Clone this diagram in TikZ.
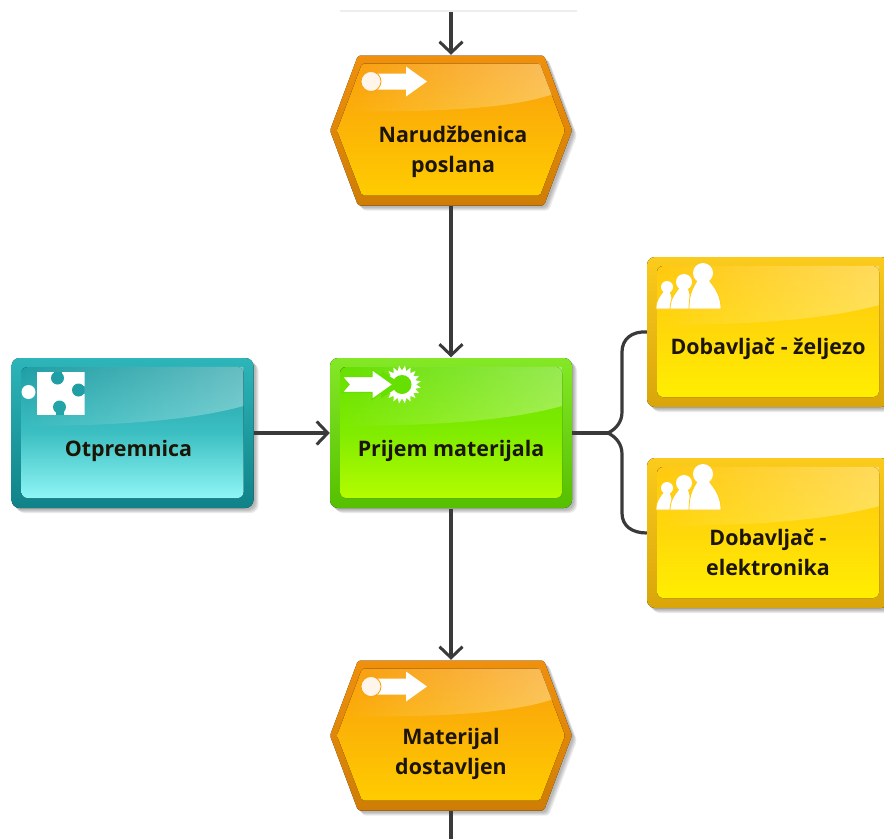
\documentclass[tikz,border=0pt]{standalone}
\usepackage{fontspec}
\setmainfont{Open Sans}
\usepackage{tikz}
\usetikzlibrary{arrows.meta}
\usetikzlibrary{fadings}

\definecolor{linegray}{HTML}{3A3A3A}
\definecolor{inkdark}{HTML}{1C1405}
\definecolor{evedge}{HTML}{CF7D06}
\definecolor{evrim}{HTML}{F0900C}
\definecolor{evtop}{HTML}{F99E0C}
\definecolor{evface}{HTML}{FFCC00}
\definecolor{docedge}{HTML}{0F8288}
\definecolor{docrim}{HTML}{2DB5B9}
\definecolor{doctop}{HTML}{1F9FA5}
\definecolor{docmid}{HTML}{3CBFC2}
\definecolor{docface}{HTML}{8FF5F5}
\definecolor{fnedge}{HTML}{55C000}
\definecolor{fnrim}{HTML}{84E826}
\definecolor{fntop}{HTML}{66E000}
\definecolor{fnmid}{HTML}{80EC00}
\definecolor{fnface}{HTML}{B4FC00}
\definecolor{roleedge}{HTML}{D9A50A}
\definecolor{rolerim}{HTML}{FBCB1C}
\definecolor{roletop}{HTML}{FFC90F}
\definecolor{rolemid}{HTML}{FFD80A}
\definecolor{roleface}{HTML}{FFEE00}

\tikzset{
	flow/.style={draw=linegray, line width=3.2pt},
	flow arrow/.style={flow, -{Straight Barb[length=11pt,width=23pt,line width=3pt]}},
	anchor box/.style={rectangle, minimum width=242pt, minimum height=151pt, inner sep=0pt},
	label text/.style={font=\fontsize{21.4}{30}\selectfont\bfseries, text=inkdark, align=center, inner sep=0pt},
	soft shadow/.style={fill=black, opacity=0.08},
}

% #1 name, #2 position, #3 colour prefix, #4 text position, #5 text
\newcommand{\roundbox}[5]{
	\begin{scope}[shift={#2}]
		\foreach \s in {2,3,4,5}
			\fill[soft shadow, rounded corners=8pt] (-121+\s,-75+\s) rectangle (121+\s,75+\s);
		\fill[rounded corners=8pt, top color=#3rim, bottom color=#3edge] (-121,-75) rectangle (121,75);
		\fill[rounded corners=6pt, top color=#3top, bottom color=#3face, middle color=#3mid] (-111,-66) rectangle (111,65);
		\fill[white, opacity=0.32, path fading=west] (-111,-66) -- (-111,-7)
			.. controls (-40,-7) and (50,-10) .. (111,-27) -- (111,-66) -- cycle;
		\node[anchor box] (#1) at (0,0) {};
		\node[label text] (#1 text) at #4 {#5};
	\end{scope}
}

% #1 name, #2 position, #3 text position, #4 text
\newcommand{\eventbox}[4]{
	\begin{scope}[shift={#2}]
		\foreach \s in {2,3,4,5}
			\fill[soft shadow, rounded corners=3pt] (-121+\s,\s) -- (-93+\s,-75+\s) -- (93+\s,-75+\s)
				-- (121+\s,\s) -- (93+\s,75+\s) -- (-93+\s,75+\s) -- cycle;
		\fill[rounded corners=2pt, top color=evrim, bottom color=evedge]
			(-121,0) -- (-93,-75) -- (93,-75) -- (121,0) -- (93,75) -- (-93,75) -- cycle;
		\fill[rounded corners=2pt, top color=evtop, bottom color=evface]
			(-114,0) -- (-89,-67) -- (89,-67) -- (114,0) -- (89,65) -- (-89,65) -- cycle;
		\fill[white, opacity=0.32, path fading=west] (-106,-19) .. controls (-40,-19) and (50,-19) .. (101,-36)
			-- (89,-67) -- (-89,-67) -- cycle;
		% icon
		\fill[white] (-80,-57) -- (-45,-57) -- (-45,-64) -- (-24,-49) -- (-45,-34) -- (-45,-41) -- (-80,-41) -- cycle;
		\draw[fill=white!92!orange, draw=evtop, line width=0.8pt] (-80,-49) circle (10pt);
		\node[anchor box] (#1) at (0,0) {};
		\node[label text] (#1 text) at #3 {#4};
	\end{scope}
}

% #1 base x, #2 head x, #3 head y, #4 head radius, #5 half width
\newcommand{\person}[5]{
	\fill[white, draw=roletop, line width=0.8pt] (#1-#5,-23)
		.. controls (#1-#5,{#3+2*#4}) and (#2-#4,{#3+1.2*#4}) .. (#2,#3)
		.. controls (#2+#4,{#3+1.2*#4}) and (#1+#5,{#3+2*#4}) .. (#1+#5,-23) -- cycle;
	\fill[white] (#2,#3) circle (#4pt);
}

% #1 position
\newcommand{\people}[1]{
	\begin{scope}[shift={#1}]
		\person{-104}{-101}{-45}{6}{8}
		\person{-88}{-84}{-50}{8}{10}
		\person{-63}{-65}{-59}{10}{16}
	\end{scope}
}

\begin{document}
\begin{tikzpicture}[x=1pt,y=-1pt]
	\useasboundingbox (0,0) rectangle (884,839);
	\clip (0,0) rectangle (884,839);
	
	% strip left over from the shape above
	\fill[black!7] (340,10) rectangle (577,12);
	
	\coordinate (top end) at (451,12);
	\coordinate (bottom end) at (451,839);
	
	\eventbox{narudzbenica}{(451,130.5)}{(2,21)}{Narudžbenica\\poslana}
	\eventbox{materijal}{(451,735.5)}{(0,18)}{Materijal\\dostavljen}
	
	\roundbox{otpremnica}{(132.5,433)}{doc}{(-4,18)}{Otpremnica}
	\roundbox{prijem}{(451,433)}{fn}{(0,18)}{Prijem materijala}
	\roundbox{zeljezo}{(768,332)}{role}{(0,17)}{Dobavljač - željezo}
	\roundbox{elektronika}{(768,533)}{role}{(0,19)}{Dobavljač -\\elektronika}
	
	\people{(768,332)}
	\people{(768,533)}
	
	% puzzle
	\begin{scope}[shift={(132.5,433)}]
		\fill[white] (-104,-41) circle (7pt);
		\begin{scope}
			\clip (-96,-61) rectangle (-48,-18);
			\fill[white] (-96,-61) rectangle (-48,-18);
			\fill[doctop] (-75,-55) circle (6.5pt);
			\fill[doctop] (-79,-61) rectangle (-71,-55);
			\fill[doctop!85!docmid] (-73,-26) circle (6.5pt);
			\fill[doctop!85!docmid] (-77,-26) rectangle (-69,-18);
			\fill[doctop] (-54,-43) circle (6.5pt);
			\fill[doctop] (-54,-47) rectangle (-48,-39);
		\end{scope}
	\end{scope}
	
	% arrow into gear
	\begin{scope}[shift={(402,384.5)}]
		\fill[white] plot[samples at={0,...,39}] (\x*9:{14+5*mod(\x,2)}) -- cycle;
		\fill[fntop] (0,0) circle (9.5pt);
		\fill[fntop] (0,0) -- (-21,-14) -- (-21,14) -- cycle;
		\draw[fill=white, draw=fntop, line width=1.2pt] (-60,-8) -- (-30,-8) -- (-30,-15) -- (-9,0)
			-- (-30,15) -- (-30,8) -- (-60,8) -- (-53,0) -- cycle;
	\end{scope}
	
	\draw[flow arrow] (top end) -- (narudzbenica.north);
	\draw[flow arrow] (narudzbenica.south) -- (prijem.north);
	\draw[flow arrow] (prijem.south) -- (materijal.north);
	\draw[flow] (materijal.south) -- (bottom end);
	\draw[flow arrow] (otpremnica.east) -- (prijem.west);
	
	\coordinate (split) at (608,433);
	\draw[flow] (prijem.east) -- (split);
	\draw[flow] (split) .. controls (616,429) and (622,422) .. (622,412) -- (622,352)
		.. controls (622,339) and (632,331) .. (zeljezo.west);
	\draw[flow] (split) .. controls (616,437) and (622,444) .. (622,454) -- (622,513)
		.. controls (622,526) and (632,533) .. (elektronika.west);
\end{tikzpicture}
\end{document}
